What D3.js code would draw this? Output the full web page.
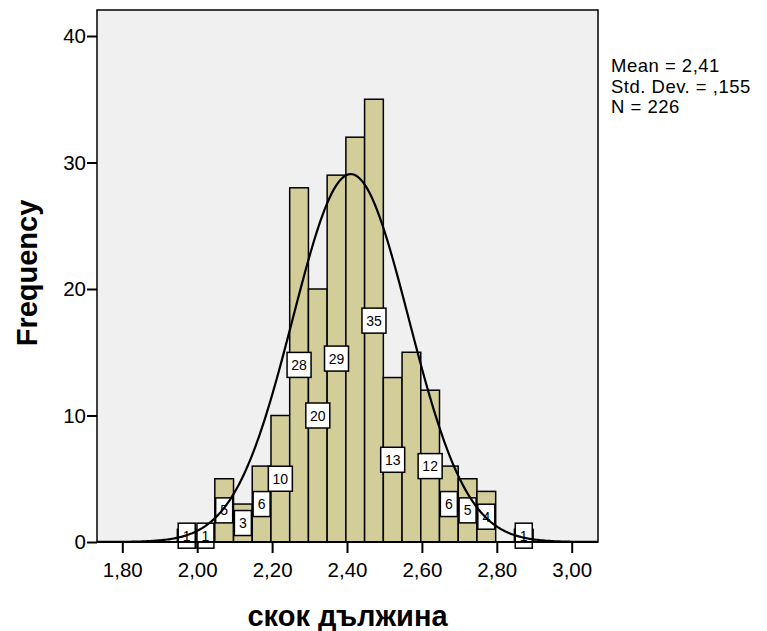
<!DOCTYPE html>
<html>
<head>
<meta charset="utf-8">
<script src="https://cdn.jsdelivr.net/npm/d3@7"></script>
<style>
  body { margin: 0; background: #fff; }
  text { font-family: "Liberation Sans", Arial, sans-serif; }
</style>
</head>
<body>
<svg id="chart"></svg>
<script>
// histogram bins (lower edge of each bin, width 0.05)
const binStarts = [1.947, 1.997, 2.047, 2.097, 2.147, 2.197, 2.247, 2.297, 2.347, 2.397,
                   2.447, 2.497, 2.547, 2.597, 2.647, 2.697, 2.747, 2.797, 2.847];
const counts = [1, 1, 5, 3, 6, 10, 28, 20, 29, 32, 35, 13, 15, 12, 6, 5, 4, 0, 1];
// SPSS dropped the value label on a couple of bins
const labelHidden = [2.397, 2.547, 2.797];
const binWidth = 0.05;
const xTicks = [1.8, 2.0, 2.2, 2.4, 2.6, 2.8, 3.0];
const yTicks = [0, 10, 20, 30, 40];
const stats = { mean: 2.41, sd: 0.155, n: 226 };
const statLines = ['Mean = 2,41', 'Std. Dev. = ,155', 'N = 226'];

const W = 767, H = 631;
const margin = { top: 10, right: 169, bottom: 89, left: 97 };
const width = W - margin.left - margin.right;
const height = H - margin.top - margin.bottom;

const svg = d3.select('#chart').attr('width', W).attr('height', H);
const chart = svg.append('g').attr('transform', `translate(${margin.left},${margin.top})`);

const xScale = d3.scaleLinear().domain([1.8, 3.0]).range([25.3, 474.7]);
const yScale = d3.scaleLinear().domain([0, 40]).range([height, 26]);

const data = binStarts.map((s, i) => ({ x0: s, x1: s + binWidth, count: counts[i] }));

// plot background
chart.append('rect')
    .attr('width', width).attr('height', height)
    .attr('fill', '#f0f0f0');

// bars
chart.append('g').selectAll('rect')
    .data(data.filter(d => d.count > 0))
    .join('rect')
    .attr('x', d => xScale(d.x0))
    .attr('width', d => xScale(d.x1) - xScale(d.x0))
    .attr('y', d => yScale(d.count))
    .attr('height', d => yScale(0) - yScale(d.count))
    .attr('fill', '#d3ce99')
    .attr('stroke', '#000')
    .attr('stroke-width', 1.5);

// value labels in the middle of each bar
const labels = chart.append('g').selectAll('g')
    .data(data.filter(d => d.count > 0 && !labelHidden.includes(d.x0)))
    .join('g')
    .attr('transform', d => `translate(${xScale(d.x0 + binWidth / 2)},${yScale(d.count / 2)})`);

labels.append('rect')
    .attr('x', d => -(String(d.count).length > 1 ? 12 : 8.5))
    .attr('width', d => String(d.count).length > 1 ? 24 : 17)
    .attr('y', -12.5).attr('height', 25)
    .attr('fill', '#fff')
    .attr('stroke', '#000')
    .attr('stroke-width', 1.5);

labels.append('text')
    .attr('text-anchor', 'middle')
    .attr('dy', '0.36em')
    .attr('font-size', 14)
    .text(d => d.count);

// normal curve
const xMin = xScale.invert(0), xMax = xScale.invert(width);
const curve = d3.range(0, 301).map(i => {
  const x = xMin + (xMax - xMin) * i / 300;
  const z = (x - stats.mean) / stats.sd;
  return [x, stats.n * binWidth / (stats.sd * Math.sqrt(2 * Math.PI)) * Math.exp(-0.5 * z * z)];
});
chart.append('path')
    .datum(curve)
    .attr('fill', 'none')
    .attr('stroke', '#000')
    .attr('stroke-width', 2.2)
    .attr('d', d3.line().x(d => xScale(d[0])).y(d => yScale(d[1])));

// frame
chart.append('rect')
    .attr('width', width).attr('height', height)
    .attr('fill', 'none')
    .attr('stroke', '#000')
    .attr('stroke-width', 1.5);

const fmt = d => d3.format('.2f')(d).replace('.', ',');

const xAxisG = chart.append('g')
    .attr('transform', `translate(0,${height})`)
    .call(d3.axisBottom(xScale).tickValues(xTicks).tickFormat(fmt).tickSize(11).tickPadding(9));
const yAxisG = chart.append('g')
    .call(d3.axisLeft(yScale).tickValues(yTicks).tickSize(10).tickPadding(1));

[xAxisG, yAxisG].forEach(g => {
  g.select('.domain').remove();
  g.selectAll('line').attr('stroke', '#000').attr('stroke-width', 2);
  g.selectAll('text').attr('font-family', '"Liberation Sans", Arial, sans-serif')
      .attr('font-size', 20.5).attr('fill', '#000');
});
chart.append('line')
    .attr('x1', 0).attr('x2', width).attr('y1', height).attr('y2', height)
    .attr('stroke', '#000').attr('stroke-width', 2);

// axis titles
svg.append('text')
    .attr('transform', `translate(37,273) rotate(-90)`)
    .attr('text-anchor', 'middle')
    .attr('font-size', 29).attr('font-weight', 'bold')
    .text('Frequency');

svg.append('text')
    .attr('x', margin.left + width / 2).attr('y', 626)
    .attr('text-anchor', 'middle')
    .attr('font-size', 29).attr('font-weight', 'bold')
    .text('скок дължина');

// stats box
svg.append('g').selectAll('text')
    .data(statLines)
    .join('text')
    .attr('x', 611)
    .attr('y', (d, i) => 72 + i * 20.7)
    .attr('font-size', 18.5)
    .attr('letter-spacing', 0.5)
    .text(d => d);
</script>
</body>
</html>
